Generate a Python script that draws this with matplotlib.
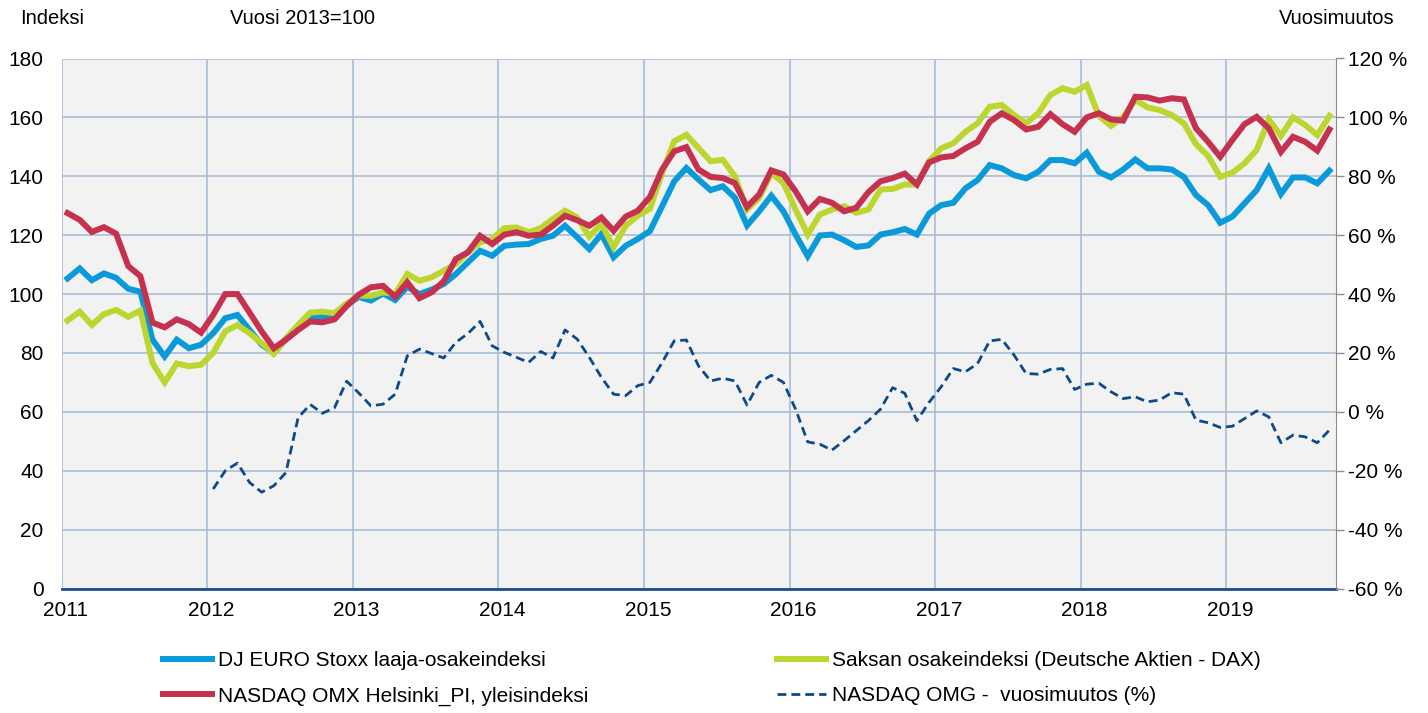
import numpy as np
import matplotlib
matplotlib.use("Agg")
import matplotlib.pyplot as plt
import matplotlib.transforms as mtransforms

plt.rcParams['font.family'] = ['Liberation Sans', 'DejaVu Sans']

# monthly data, Jan 2011 - Sep 2019 (2013 = 100)
years = ['2011', '2012', '2013', '2014', '2015', '2016', '2017', '2018', '2019']

euro_stoxx = [
    105.3, 108.7, 104.7, 107.0, 105.5, 101.8, 100.8, 84.5, 78.8, 84.5, 81.6, 82.8,
    86.7, 91.8, 92.9, 87.8, 82.8, 80.0, 84.7, 88.4, 91.8, 92.3, 92.3, 96.3,
    99.0, 97.8, 100.2, 98.0, 102.5, 100.0, 101.5, 103.4, 106.8, 110.8, 114.7, 113.0,
    116.4, 116.8, 117.0, 118.7, 119.8, 123.2, 119.3, 115.3, 120.4, 112.5, 116.4, 118.7,
    121.4, 129.8, 138.3, 142.8, 138.9, 135.3, 136.6, 132.7, 123.3, 128.1, 133.4, 128.1,
    120.2, 112.9, 119.9, 120.2, 118.3, 116.0, 116.5, 120.2, 121.0, 122.1, 120.2, 127.3,
    130.2, 131.0, 135.9, 138.7, 143.8, 142.7, 140.4, 139.3, 141.5, 145.5, 145.5, 144.4,
    148.0, 141.5, 139.6, 142.3, 145.7, 142.7, 142.7, 142.3, 139.8, 133.6, 130.2, 124.2,
    126.3, 130.8, 135.3, 142.7, 134.0, 139.6, 139.6, 137.6, 141.9,
]

dax = [
    91.0, 94.0, 89.5, 93.2, 94.6, 92.3, 94.4, 76.6, 70.0, 76.4, 75.5, 76.0,
    80.0, 87.3, 89.5, 86.7, 83.3, 79.7, 85.0, 89.5, 93.7, 94.0, 93.5, 96.8,
    99.5, 99.4, 100.6, 100.0, 106.8, 104.5, 105.7, 107.9, 110.2, 114.2, 117.6, 118.7,
    122.4, 122.6, 121.0, 122.4, 125.5, 128.3, 126.0, 119.5, 123.8, 115.9, 123.2, 126.6,
    129.0, 141.1, 151.9, 154.1, 149.6, 145.1, 145.6, 140.0, 128.7, 132.7, 141.1, 137.7,
    128.7, 120.2, 127.0, 128.7, 129.8, 127.6, 128.7, 135.5, 135.7, 137.2, 137.2, 145.1,
    149.5, 151.2, 155.1, 158.0, 163.6, 164.2, 160.8, 158.0, 161.4, 167.6, 169.9, 168.7,
    171.0, 160.5, 157.1, 160.2, 165.9, 163.4, 162.5, 160.8, 158.0, 150.9, 146.9, 139.8,
    141.2, 144.4, 148.9, 159.3, 153.7, 160.0, 157.4, 154.0, 160.5,
]

helsinki = [
    127.5, 125.2, 121.1, 122.7, 120.5, 109.5, 106.1, 90.3, 88.7, 91.4, 89.8, 86.9,
    92.9, 100.0, 100.0, 93.7, 87.3, 81.6, 84.5, 87.8, 90.7, 90.4, 91.4, 95.9,
    99.8, 102.3, 102.8, 99.1, 104.0, 98.6, 100.6, 104.3, 111.9, 114.2, 119.8, 117.0,
    120.2, 121.0, 119.8, 120.2, 123.2, 126.6, 125.1, 123.2, 126.0, 121.5, 126.3, 128.3,
    133.0, 142.3, 148.5, 149.9, 142.3, 139.8, 139.4, 137.7, 129.6, 133.8, 142.0, 140.6,
    134.9, 128.1, 132.3, 131.0, 128.1, 129.3, 134.6, 138.3, 139.4, 140.9, 137.2, 144.7,
    146.4, 146.9, 149.5, 151.7, 158.5, 161.4, 159.1, 155.9, 156.8, 161.1, 157.7, 155.1,
    160.0, 161.4, 159.3, 158.9, 167.0, 166.8, 165.7, 166.5, 166.1, 156.3, 151.7, 146.6,
    152.3, 157.7, 160.2, 156.3, 148.3, 153.4, 151.7, 148.7, 155.9,
]

# year-on-year change (%), starts Jan 2012
omx_change = [np.nan] * 12 + [
    -26.2, -20.0, -17.4, -24.0, -27.3, -25.1, -20.6, -2.0, 2.5, -0.5, 1.4, 10.4,
    6.4, 2.0, 2.6, 6.0, 19.0, 21.3, 19.8, 18.3, 23.6, 26.6, 30.7, 22.4,
    20.2, 18.5, 16.8, 20.5, 18.3, 27.8, 24.7, 18.5, 11.7, 6.0, 5.5, 8.9,
    10.0, 16.7, 24.1, 24.4, 15.6, 10.5, 11.4, 10.5, 2.3, 10.0, 12.4, 10.0,
    0.9, -10.2, -11.0, -13.0, -9.8, -6.4, -3.0, 0.9, 8.2, 6.3, -3.0, 3.2,
    8.5, 14.7, 13.6, 16.4, 24.1, 24.6, 19.3, 13.0, 12.8, 14.4, 14.7, 7.6,
    9.4, 9.7, 6.8, 4.5, 5.1, 3.4, 4.0, 6.5, 6.0, -2.8, -3.7, -5.3,
    -4.9, -2.3, 0.3, -1.7, -10.5, -7.9, -8.5, -10.5, -6.2,
]

x = np.arange(len(euro_stoxx)) + 0.5

fig = plt.figure(figsize=(14.28, 7.13), dpi=100)
ax = fig.add_axes([61.5 / 1428, 1 - 588.5 / 713, 1274 / 1428, 530 / 713])
ax.set_facecolor('#f2f2f2')

grid_col = '#a3b9d6'
ax.set_xlim(0, len(euro_stoxx))
ax.set_ylim(0, 180)
ax.set_yticks(range(0, 181, 20))
ax.set_xticks(range(0, 12 * len(years), 12))
ax.set_xticklabels(years)
ax.grid(True, color=grid_col, lw=1.1)
ax.set_axisbelow(True)
ax.tick_params(axis='y', length=0, pad=13, labelsize=15, colors='black')
ax.tick_params(axis='x', length=0, pad=9, labelsize=15)
for lab in ax.get_xticklabels():
    lab.set_transform(lab.get_transform() + mtransforms.ScaledTranslation(4 / 100, 0, fig.dpi_scale_trans))

for s in ['left', 'top', 'right']:
    ax.spines[s].set_visible(False)
ax.spines['bottom'].set_color('#1f4e8c')
ax.spines['bottom'].set_linewidth(2)

l1, = ax.plot(x, euro_stoxx, color='#0a9ad9', lw=4.3, solid_joinstyle='miter', label='DJ EURO Stoxx laaja-osakeindeksi')
l2, = ax.plot(x, dax, color='#bdd62f', lw=4.3, solid_joinstyle='miter', label='Saksan osakeindeksi (Deutsche Aktien - DAX)')
l3, = ax.plot(x, helsinki, color='#c5314f', lw=4.3, solid_joinstyle='miter', label='NASDAQ OMX Helsinki_PI, yleisindeksi')

ax2 = ax.twinx()
ax2.set_ylim(-60, 120)
ax2.set_yticks(range(-60, 121, 20))
ax2.set_yticklabels([f'{v} %' for v in range(-60, 121, 20)])
ax2.tick_params(axis='y', length=6, width=1, color='#8c8c8c', pad=3, labelsize=15)
for s in ['left', 'top', 'bottom']:
    ax2.spines[s].set_visible(False)
ax2.spines['right'].set_color('#8c8c8c')
l4, = ax2.plot(x, omx_change, color='#0d4a8a', lw=2.0, dashes=(3.2, 1.8), label='NASDAQ OMG -  vuosimuutos (%)')

fig.text(20 / 1428, 1 - 18 / 713, 'Indeksi', fontsize=14.5, va='center', ha='left')
fig.text(230 / 1428, 1 - 18 / 713, 'Vuosi 2013=100', fontsize=14.5, va='center', ha='left')
fig.text(1395 / 1428, 1 - 18 / 713, 'Vuosimuutos', fontsize=14.5, va='center', ha='right')

fig.legend([l1, l3, l2, l4], [l1.get_label(), l3.get_label(), l2.get_label(), l4.get_label()],
           ncol=2, loc='upper left', bbox_to_anchor=(163 / 1428, 1 - 651 / 713),
           frameon=False, fontsize=15, handlelength=2.35, handletextpad=0.3,
           columnspacing=9.05, labelspacing=0.78, borderpad=0, borderaxespad=0)

fig.savefig('out.png', dpi=100)
